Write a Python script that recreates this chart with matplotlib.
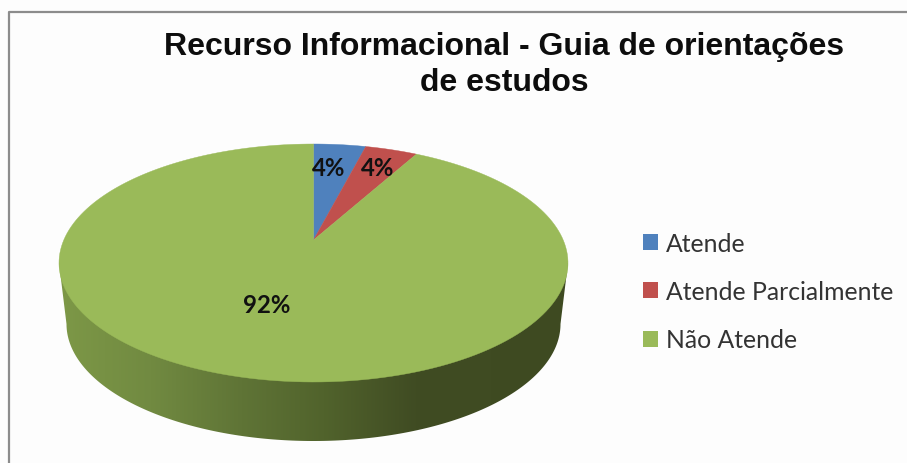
import numpy as np
import matplotlib
matplotlib.use("Agg")
import matplotlib.pyplot as plt
from matplotlib.patches import Patch
from matplotlib.colors import LinearSegmentedColormap

title = "Recurso Informacional - Guia de orientações\nde estudos"
labels = ["Atende", "Atende Parcialmente", "Não Atende"]
values = [4, 4, 92]
colors = ["#4f81bd", "#c0504d", "#9aba59"]

W, H = 907, 464
cx, cy = 313.5, 264  # centro da elipse de cima, em pixels
rx, ry = 254.5, 119
shift = 23  # o vertice da pizza fica acima do centro (perspectiva)
q = 2 * shift / (2 * ry)
A = rx * (ry - shift * q) / np.sqrt(ry ** 2 - shift ** 2)


def project(u, v):
    # circulo unitario -> elipse vista em perspectiva
    w = 1 + q * v
    return cx + A * u / w, cy - (ry * v + shift) / w


def wedge(start, stop):
    ang = np.radians(np.linspace(start, stop, 200))
    u = np.append(np.sin(ang), 0)
    v = np.append(np.cos(ang), 0)
    return project(u, v)


fig = plt.figure(figsize=(W / 100, H / 100), dpi=100, facecolor="#fdfdfd")
ax = fig.add_axes([0, 0, 1, 1])
ax.set_xlim(0, W)
ax.set_ylim(H, 0)
ax.axis("off")

# lateral com gradiente
bottom_t = np.linspace(0, np.pi, 200)
side_x = np.concatenate([[cx - rx, cx + rx], cx + 247 * np.cos(bottom_t)])
side_y = np.concatenate([[cy, cy], 325 + 117 * np.sin(bottom_t)])
side = ax.fill(side_x, side_y, color="none", lw=0)[0]
cmap = LinearSegmentedColormap.from_list("side", [
    (0.00, "#7d9847"), (0.18, "#718a41"), (0.36, "#5f7436"),
    (0.52, "#51632c"), (0.70, "#404c23"), (1.00, "#3e4a21")])
img = ax.imshow(np.linspace(0, 1, 256)[None, :], cmap=cmap, aspect="auto",
                extent=[cx - rx, cx + rx, 445, cy], zorder=1)
img.set_clip_path(side)
ax.set_xlim(0, W)
ax.set_ylim(H, 0)

# fatias de cima
pct = np.cumsum([0] + values) / sum(values) * 360
for i in range(len(values)):
    x, y = wedge(pct[i], pct[i + 1])
    ax.fill(x, y, color=colors[i], lw=0.3, zorder=2)

# moldura
ax.plot([8.5, 8.5, W], [H, 12.5, 12.5], color="#8c8c8c", lw=1.6, zorder=3)

ax.text(504, 65, title, ha="center", va="center", fontsize=23, fontweight="bold",
        family="Liberation Sans", color="#0d0d0d", linespacing=1.28)

pos = [(329, 168.5), (378, 168.5), (267, 305.5)]
for (px, py), val in zip(pos, values):
    ax.text(px, py, f"{val}%", ha="center", va="center", fontsize=17.3,
            fontweight="bold", family="Lato", color="#111111", zorder=4)

handles = [Patch(facecolor=c, edgecolor="none") for c in colors]
ax.legend(handles, labels, loc="center left", bbox_to_anchor=(643 / W, 1 - 292.5 / H),
          frameon=False, prop={"family": "Lato", "size": 17.8}, labelcolor="#333333",
          handlelength=0.62, handleheight=0.62, handletextpad=0.3,
          labelspacing=1.03, borderpad=0, borderaxespad=0)

fig.savefig("out.png", dpi=100, facecolor=fig.get_facecolor())
